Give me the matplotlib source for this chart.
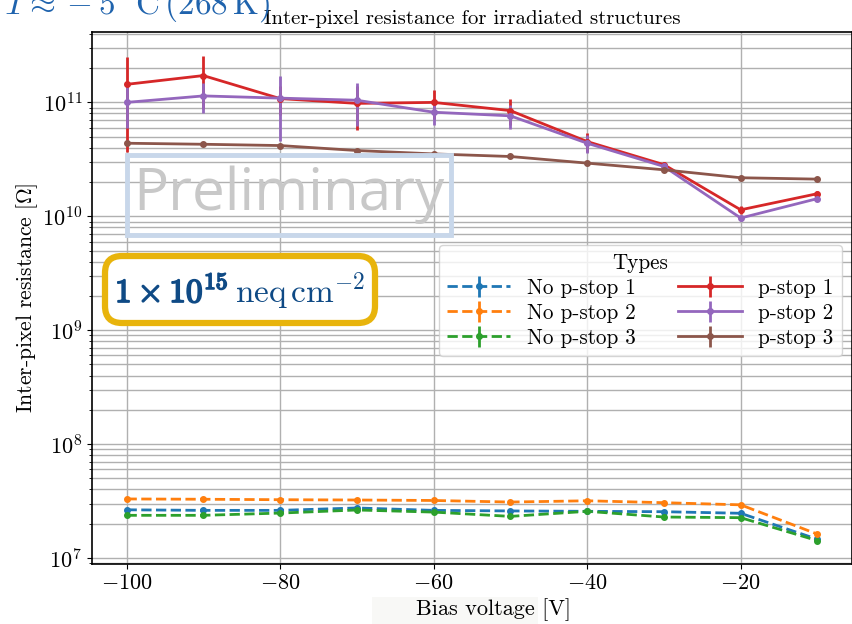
import matplotlib
matplotlib.use("Agg")
import matplotlib.pyplot as plt
from matplotlib.patches import FancyBboxPatch, Rectangle
import matplotlib.patheffects as pe
import numpy as np

plt.rcParams['font.family'] = 'serif'
plt.rcParams['font.serif'] = ['cmr10', 'DejaVu Serif']
plt.rcParams['mathtext.fontset'] = 'cm'
plt.rcParams['axes.formatter.use_mathtext'] = True
plt.rcParams['axes.unicode_minus'] = True

# ---------------- data ----------------
bias = [-100, -90, -80, -70, -60, -50, -40, -30, -20, -10]

no_pstop_1 = [2.65e7, 2.62e7, 2.62e7, 2.75e7, 2.62e7, 2.59e7, 2.57e7, 2.55e7, 2.47e7, 1.46e7]
no_pstop_2 = [3.30e7, 3.28e7, 3.25e7, 3.23e7, 3.20e7, 3.10e7, 3.18e7, 3.06e7, 2.93e7, 1.62e7]
no_pstop_3 = [2.37e7, 2.37e7, 2.48e7, 2.64e7, 2.53e7, 2.32e7, 2.57e7, 2.29e7, 2.26e7, 1.42e7]
no_pstop_1_err = [0.05e7, 0.05e7, 0.05e7, 0.05e7, 0.05e7, 0.05e7, 0.05e7, 0.05e7, 0.05e7, 0.03e7]
no_pstop_2_err = [0.05e7, 0.05e7, 0.05e7, 0.05e7, 0.05e7, 0.05e7, 0.05e7, 0.05e7, 0.05e7, 0.03e7]
no_pstop_3_err = [0.05e7, 0.05e7, 0.05e7, 0.05e7, 0.05e7, 0.05e7, 0.05e7, 0.05e7, 0.05e7, 0.03e7]

pstop_1 = [1.44e11, 1.72e11, 1.08e11, 9.8e10, 1.0e11, 8.47e10, 4.53e10, 2.84e10, 1.14e10, 1.58e10]
pstop_2 = [1.0e11, 1.14e11, 1.09e11, 1.045e11, 8.2e10, 7.62e10, 4.38e10, 2.74e10, 9.66e9, 1.43e10]
pstop_3 = [4.38e10, 4.29e10, 4.18e10, 3.78e10, 3.53e10, 3.35e10, 2.93e10, 2.56e10, 2.18e10, 2.12e10]
pstop_1_err = [1.07e11, 0.84e11, 0.3e11, 4.1e10, 2.9e10, 2.2e10, 0.84e10, 0.15e10, 0.1e10, 0.1e10]
pstop_2_err = [4.1e10, 3.3e10, 6.3e10, 4.3e10, 1.9e10, 1.8e10, 0.75e10, 0.1e10, 0.05e10, 0.05e10]
pstop_3_err = [0.04e10, 0.04e10, 0.04e10, 0.04e10, 0.03e10, 0.03e10, 0.03e10, 0.02e10, 0.02e10, 0.02e10]

labels = ['No p-stop 1', 'No p-stop 2', 'No p-stop 3', 'p-stop 1', 'p-stop 2', 'p-stop 3']
colors = ['#1f77b4', '#ff7f0e', '#2ca02c', '#d62728', '#9467bd', '#8c564b']
styles = ['--', '--', '--', '-', '-', '-']

series = [no_pstop_1, no_pstop_2, no_pstop_3, pstop_1, pstop_2, pstop_3]
errors = [no_pstop_1_err, no_pstop_2_err, no_pstop_3_err, pstop_1_err, pstop_2_err, pstop_3_err]

# ---------------- figure ----------------
W, H = 853, 624
fig = plt.figure(figsize=(W / 100, H / 100), dpi=100)
ax = fig.add_axes([92 / W, (H - 564) / H, 760 / W, 532 / H])

for y, e, lab, c, ls in zip(series, errors, labels, colors, styles):
    ax.errorbar(bias, y, yerr=e, label=lab, color=c, linestyle=ls, marker='o',
                markersize=4, linewidth=2, elinewidth=2, capsize=0)

ax.set_yscale('log')
ax.set_xlim(-104.5, -5.5)
ax.set_ylim(8.86e6, 4.15e11)
ax.set_xticks([-100, -80, -60, -40, -20])
ax.grid(True, which='major', color='#b0b0b0', linewidth=1.0)
ax.grid(True, which='minor', axis='y', color='#b0b0b0', linewidth=1.0)
ax.tick_params(labelsize=16)
for s in ax.spines.values():
    s.set_linewidth(1.2)

ax.set_title('Inter-pixel resistance for irradiated structures', fontsize=15, pad=6)
ax.set_ylabel(r'Inter-pixel resistance [$\Omega$]', fontsize=15.5)
ax.yaxis.set_label_coords(-0.068, 0.5)
ax.set_xlabel('Bias voltage [V]', fontsize=16)
ax.xaxis.set_label_coords((494 - 92) / 760, -0.064)

leg = ax.legend(title='Types', ncol=2, loc='upper right', bbox_to_anchor=(0.987, 0.600),
                borderaxespad=0, fontsize=15.2, title_fontsize=15.2, handlelength=3.0,
                columnspacing=2.0, labelspacing=0.26, handletextpad=0.8)

# faint patch behind the x label
fig.patches.append(Rectangle((3.72, 0.0), 1.66, 0.27, transform=fig.dpi_scale_trans,
                             facecolor='#f8f8f6', edgecolor='none', zorder=-1))

# Preliminary watermark
fig.patches.append(Rectangle((1.27, (H - 235) / 100), 3.24, 0.80, transform=fig.dpi_scale_trans,
                             facecolor='none', edgecolor='#c8d7ea', linewidth=3.5, zorder=5))
fig.text(2.89 / (W / 100), (H - 195) / H, 'Preliminary', family='Open Sans', fontsize=42,
         color='#c8c8c8', ha='center', va='center', zorder=6)

# Fluence box
fig.patches.append(FancyBboxPatch((1.05, (H - 323) / 100), 2.70, 0.67,
                                  boxstyle='round,pad=0,rounding_size=0.17',
                                  transform=fig.dpi_scale_trans, facecolor='white',
                                  edgecolor='#e8b40c', linewidth=4.5, zorder=7))
fl_color = '#0f4a85'
t1 = fig.text(115 / W, (H - 302) / H, r'$\mathbf{1\times10^{15}}$', fontsize=24,
              color=fl_color, ha='left', va='baseline', zorder=8,
              path_effects=[pe.withStroke(linewidth=1.3, foreground=fl_color)])
fig.canvas.draw()
bb = t1.get_window_extent()
fig.text((bb.x1 + 7) / W, (H - 302) / H, r'$\mathrm{neq\,cm^{-2}}$', fontsize=24,
         color=fl_color, ha='left', va='baseline', zorder=8)

# Temperature annotation (clipped at top, as in the original)
fig.text(4 / W, (H - 14) / H, r'$T\approx-5\,^{\circ}\mathrm{C}\,(268\,\mathrm{K})$',
         fontsize=24, color='#1f63ad', ha='left', va='baseline')

fig.savefig('out.png', dpi=100)
